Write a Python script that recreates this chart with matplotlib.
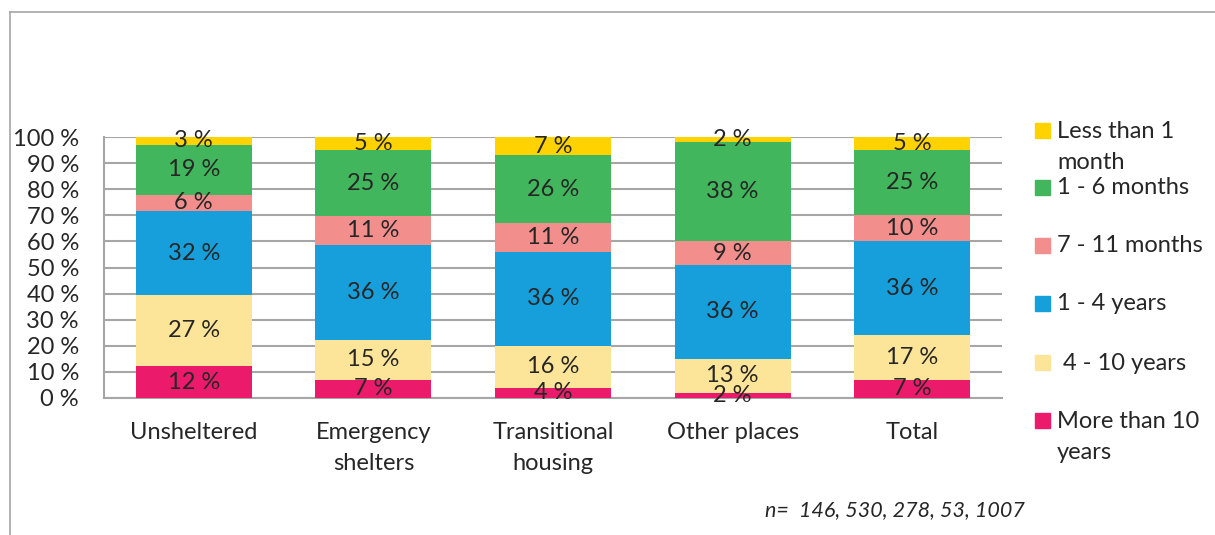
import matplotlib.pyplot as plt
import matplotlib.patches as mpatches
from matplotlib.lines import Line2D
import numpy as np

plt.rcParams["font.family"] = ["Lato", "DejaVu Sans"]

categories = ["Unsheltered", "Emergency\nshelters", "Transitional\nhousing",
              "Other places", "Total"]
series_names = ["More than 10\nyears", " 4 - 10 years", "1 - 4 years",
                "7 - 11 months", "1 - 6 months", "Less than 1\nmonth"]
more_than_10y = [12, 7, 4, 2, 7]
y4_10 = [27, 15, 16, 13, 17]
y1_4 = [32, 36, 36, 36, 36]
m7_11 = [6, 11, 11, 9, 10]
m1_6 = [19, 25, 26, 38, 25]
less_1m = [3, 5, 7, 2, 5]
yticks = [0, 10, 20, 30, 40, 50, 60, 70, 80, 90, 100]
note = "n=  146, 530, 278, 53, 1007"

COLORS = ["#EC1A6A", "#FCE598", "#169FDB", "#F28E8C", "#41B65C", "#FFD200"]
TEXT = "#262626"
GRID = "#A6A6A6"
FS = 17
LS = 1.6

series = [more_than_10y, y4_10, y1_4, m7_11, m1_6, less_1m]
data = np.array(series, dtype=float)
totals = data.sum(axis=0)
shares = data / totals * 100  # percent-stacked, as in the original

fig = plt.figure(figsize=(12.15, 5.35), dpi=100)
ax = fig.add_axes([104 / 1215, 1 - 398 / 535, 898 / 1215, 261 / 535])

x = np.arange(len(categories))
bottom = np.zeros(len(categories))
for vals, raw, color in zip(shares, data, COLORS):
    ax.bar(x, vals, 0.645, bottom=bottom, color=color, zorder=3)
    for xi, b, v, r in zip(x, bottom, vals, raw):
        ax.text(xi, b + v / 2, f"{int(r)} %", ha="center", va="center",
                fontsize=FS, color=TEXT, zorder=4)
    bottom += vals

ax.set_xlim(-0.5, len(categories) - 0.5)
ax.set_ylim(0, 100)
ax.set_yticks(yticks)
ax.set_yticklabels([f"{t} %" for t in yticks])
ax.set_xticks(x)
ax.set_xticklabels(categories, linespacing=LS)
ax.tick_params(axis="y", length=0, pad=18, labelsize=FS, labelcolor=TEXT)
ax.tick_params(axis="x", length=0, pad=17, labelsize=FS, labelcolor=TEXT)
ax.grid(axis="y", color=GRID, linewidth=1.5, zorder=0)
for side in ["top", "right"]:
    ax.spines[side].set_visible(False)
for side in ["left", "bottom"]:
    ax.spines[side].set_color(GRID)
    ax.spines[side].set_linewidth(1.5)

# legend, top entry first
legend_y = [147, 188, 246, 304, 363, 437]
for name, color, ly in zip(series_names[::-1], COLORS[::-1], legend_y):
    first_line_y = ly - (16 if "\n" in name else 0)
    fig.patches.append(mpatches.Rectangle(
        (1035 / 1215, 1 - (first_line_y + 7) / 535), 15 / 1215, 15 / 535,
        transform=fig.transFigure, color=color))
    fig.text(1057 / 1215, 1 - ly / 535, name, ha="left", va="center",
             fontsize=FS, color=TEXT, linespacing=LS)

fig.text(1025 / 1215, 1 - 510 / 535, note, ha="right", va="center",
         fontsize=15.5, style="italic", color=TEXT)

# outer frame (top and left edges visible)
fig.add_artist(Line2D([10 / 1215, 1], [1 - 12 / 535, 1 - 12 / 535],
                      transform=fig.transFigure, color=GRID, lw=1.2))
fig.add_artist(Line2D([10 / 1215, 10 / 1215], [0, 1 - 12 / 535],
                      transform=fig.transFigure, color=GRID, lw=1.2))

fig.savefig("out.png", dpi=100)
